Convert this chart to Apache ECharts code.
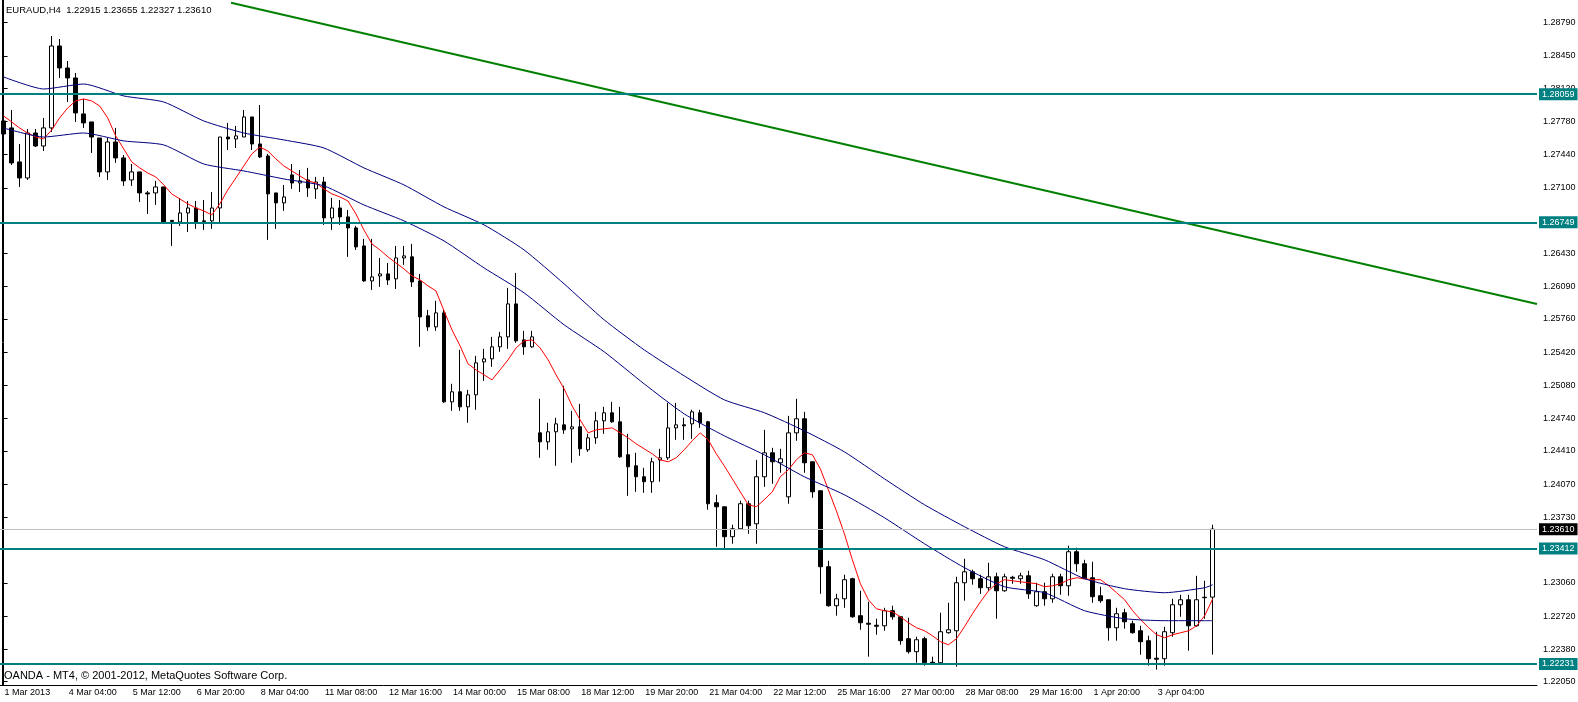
<!DOCTYPE html>
<html>
<head>
<meta charset="utf-8">
<title>EURAUD,H4</title>
<script src="https://cdn.jsdelivr.net/npm/echarts@6/dist/echarts.min.js"></script>
<style>
  html, body { margin: 0; padding: 0; background: #fff; }
  #chart { width: 1578px; height: 702px; }
</style>
</head>
<body>
<div id="chart"></div>
<script>
// H4 bars, 1 Mar 2013 00:00 .. 4 Apr 2013 08:00 (152 bars)
const open = [
  1.27785, 1.27714, 1.27366, 1.27202, 1.27662, 1.27529, 1.27714, 1.28552, 1.28327, 1.28225,
  1.27857, 1.27775, 1.27611, 1.27264, 1.27570, 1.27407, 1.27182, 1.27264, 1.27049, 1.27049,
  1.27110, 1.26768, 1.26752, 1.26844, 1.26895, 1.26763, 1.26763, 1.26895, 1.27621, 1.27601,
  1.27621, 1.27826, 1.27550, 1.27427, 1.27049, 1.26947, 1.27233, 1.27151, 1.27182, 1.27090,
  1.27161, 1.26793, 1.26895, 1.26804, 1.26691, 1.26507, 1.26149, 1.26200, 1.26221, 1.26170,
  1.26384, 1.26395, 1.26149, 1.25792, 1.25679, 1.25822, 1.24912, 1.25015, 1.24861, 1.24984,
  1.25321, 1.25352, 1.25475, 1.25577, 1.25914, 1.25546, 1.25475, 1.24595, 1.24503, 1.24606,
  1.24677, 1.24636, 1.24657, 1.24422, 1.24544, 1.24718, 1.24800, 1.24708, 1.24371, 1.24258,
  1.24146, 1.24095, 1.24319, 1.24340, 1.24646, 1.24677, 1.24687, 1.24800, 1.24708, 1.23880,
  1.23839, 1.23533, 1.23614, 1.23870, 1.23665, 1.24146, 1.24391, 1.24289, 1.23941, 1.24595,
  1.24739, 1.24299, 1.24003, 1.23226, 1.22827, 1.22898, 1.23103, 1.22725, 1.22648, 1.22627,
  1.22622, 1.22776, 1.22714, 1.22490, 1.22357, 1.22490, 1.22249, 1.22244, 1.22551, 1.22571,
  1.23062, 1.23174, 1.23103, 1.23011, 1.23123, 1.22980, 1.23118, 1.23103, 1.23133, 1.22827,
  1.22970, 1.22898, 1.23123, 1.23031, 1.23379, 1.23256, 1.23113, 1.22929, 1.22888, 1.22602,
  1.22755, 1.22643, 1.22571, 1.22469, 1.22290, 1.22285, 1.22551, 1.22837, 1.22888, 1.22622,
  1.22914, 1.22915
];
const close = [
  1.27652, 1.27356, 1.27202, 1.27662, 1.27529, 1.27714, 1.28552, 1.28327, 1.28225, 1.27867,
  1.27765, 1.27621, 1.27264, 1.27570, 1.27407, 1.27172, 1.27264, 1.27049, 1.27039, 1.27110,
  1.26752, 1.26758, 1.26844, 1.26895, 1.26752, 1.26758, 1.26895, 1.27621, 1.27601, 1.27632,
  1.27826, 1.27550, 1.27417, 1.27039, 1.26947, 1.27008, 1.27151, 1.27172, 1.27100, 1.27161,
  1.26793, 1.26895, 1.26804, 1.26691, 1.26497, 1.26149, 1.26190, 1.26221, 1.26159, 1.26384,
  1.26405, 1.26139, 1.25781, 1.25679, 1.25822, 1.24912, 1.25015, 1.24861, 1.24984, 1.25311,
  1.25352, 1.25475, 1.25577, 1.25914, 1.25536, 1.25475, 1.25577, 1.24503, 1.24606, 1.24687,
  1.24626, 1.24657, 1.24432, 1.24544, 1.24718, 1.24800, 1.24708, 1.24350, 1.24248, 1.24146,
  1.24095, 1.24299, 1.24340, 1.24646, 1.24677, 1.24667, 1.24810, 1.24698, 1.23870, 1.23839,
  1.23533, 1.23614, 1.23870, 1.23645, 1.24146, 1.24391, 1.24299, 1.24330, 1.24595, 1.24739,
  1.24289, 1.23992, 1.23226, 1.22827, 1.22898, 1.23093, 1.22714, 1.22653, 1.22638, 1.22617,
  1.22776, 1.22714, 1.22469, 1.22357, 1.22479, 1.22244, 1.22239, 1.22561, 1.22581, 1.23062,
  1.23174, 1.23103, 1.23011, 1.23123, 1.22980, 1.23123, 1.23108, 1.23133, 1.22949, 1.22970,
  1.22898, 1.23123, 1.23031, 1.23379, 1.23256, 1.23103, 1.22919, 1.22878, 1.22602, 1.22745,
  1.22663, 1.22551, 1.22459, 1.22285, 1.22280, 1.22561, 1.22837, 1.22888, 1.22622, 1.22888,
  1.22909, 1.23610
];
const low = [
  1.27632, 1.27335, 1.27110, 1.27182, 1.27519, 1.27478, 1.27673, 1.28225, 1.27979, 1.27775,
  1.27714, 1.27458, 1.27213, 1.27182, 1.27356, 1.27121, 1.27121, 1.26957, 1.26834, 1.26926,
  1.26747, 1.26507, 1.26712, 1.26650, 1.26681, 1.26671, 1.26681, 1.26742, 1.27488, 1.27509,
  1.27621, 1.27488, 1.27407, 1.26569, 1.26681, 1.26865, 1.27090, 1.27059, 1.27008, 1.26988,
  1.26722, 1.26671, 1.26722, 1.26395, 1.26466, 1.26139, 1.26057, 1.26088, 1.26108, 1.26067,
  1.26313, 1.26088, 1.25475, 1.25638, 1.25638, 1.24902, 1.24820, 1.24820, 1.24698, 1.24831,
  1.25127, 1.25270, 1.25424, 1.25454, 1.25516, 1.25393, 1.25465, 1.24340, 1.24422, 1.24258,
  1.24585, 1.24289, 1.24360, 1.24401, 1.24483, 1.24585, 1.24698, 1.24340, 1.23951, 1.23992,
  1.23982, 1.23982, 1.24095, 1.24319, 1.24524, 1.24524, 1.24534, 1.24646, 1.23809, 1.23430,
  1.23410, 1.23461, 1.23614, 1.23563, 1.23461, 1.24043, 1.24074, 1.24187, 1.23870, 1.24514,
  1.24187, 1.23931, 1.22949, 1.22817, 1.22725, 1.22806, 1.22704, 1.22581, 1.22306, 1.22530,
  1.22571, 1.22684, 1.22428, 1.22337, 1.22244, 1.22214, 1.22234, 1.22224, 1.22541, 1.22204,
  1.22878, 1.23042, 1.22949, 1.22980, 1.22694, 1.22970, 1.23052, 1.23052, 1.22898, 1.22817,
  1.22827, 1.22857, 1.22939, 1.22929, 1.23174, 1.23103, 1.22857, 1.22857, 1.22469, 1.22469,
  1.22592, 1.22541, 1.22326, 1.22214, 1.22173, 1.22214, 1.22510, 1.22714, 1.22367, 1.22612,
  1.22694, 1.22327
];
const high = [
  1.27949, 1.27897, 1.27550, 1.27703, 1.27703, 1.27816, 1.28654, 1.28623, 1.28398, 1.28276,
  1.28010, 1.27775, 1.27611, 1.27611, 1.27714, 1.27437, 1.27345, 1.27264, 1.27069, 1.27172,
  1.27110, 1.26773, 1.26998, 1.26967, 1.26967, 1.26977, 1.27059, 1.27621, 1.27765, 1.27734,
  1.27897, 1.27826, 1.27949, 1.27448, 1.27049, 1.27131, 1.27345, 1.27284, 1.27305, 1.27213,
  1.27213, 1.26998, 1.26977, 1.26875, 1.26712, 1.26579, 1.26579, 1.26384, 1.26333, 1.26507,
  1.26507, 1.26528, 1.26221, 1.25853, 1.25945, 1.25853, 1.25097, 1.25444, 1.25035, 1.25383,
  1.25454, 1.25577, 1.25628, 1.26078, 1.26231, 1.25638, 1.25638, 1.24943, 1.24698, 1.24749,
  1.25076, 1.24820, 1.24892, 1.24585, 1.24810, 1.24861, 1.24912, 1.24861, 1.24585, 1.24391,
  1.24238, 1.24340, 1.24432, 1.24902, 1.24902, 1.24749, 1.24831, 1.24831, 1.24718, 1.23962,
  1.23839, 1.23655, 1.23901, 1.23901, 1.24319, 1.24626, 1.24442, 1.24432, 1.24769, 1.24943,
  1.24810, 1.24299, 1.24003, 1.23287, 1.22949, 1.23144, 1.23113, 1.22980, 1.22868, 1.22694,
  1.22806, 1.22827, 1.22714, 1.22704, 1.22510, 1.22510, 1.22306, 1.22755, 1.22857, 1.23123,
  1.23307, 1.23195, 1.23144, 1.23266, 1.23164, 1.23154, 1.23133, 1.23164, 1.23185, 1.23062,
  1.23062, 1.23154, 1.23154, 1.23440, 1.23420, 1.23297, 1.23277, 1.23021, 1.22888, 1.22806,
  1.22796, 1.22674, 1.22622, 1.22520, 1.22561, 1.22612, 1.22898, 1.22939, 1.22939, 1.23133,
  1.23082, 1.23655
];

// red moving average, one value per bar
const maRed = [
  1.27836, 1.27775, 1.27713, 1.27662, 1.27621, 1.27601, 1.27693, 1.27816, 1.27918, 1.27990,
  1.28010, 1.27990, 1.27938, 1.27816, 1.27632, 1.27499, 1.27366, 1.27305, 1.27253, 1.27213,
  1.27131, 1.27039, 1.26988, 1.26937, 1.26896, 1.26865, 1.26824, 1.26937, 1.27080, 1.27202,
  1.27325, 1.27448, 1.27519, 1.27478, 1.27397, 1.27325, 1.27274, 1.27223, 1.27172, 1.27151,
  1.27090, 1.27039, 1.27008, 1.26967, 1.26834, 1.26671, 1.26527, 1.26466, 1.26395, 1.26333,
  1.26272, 1.26200, 1.26160, 1.26098, 1.26047, 1.25843, 1.25648, 1.25485, 1.25301, 1.25239,
  1.25188, 1.25137, 1.25239, 1.25342, 1.25464, 1.25536, 1.25546, 1.25464, 1.25342, 1.25188,
  1.25045, 1.24871, 1.24728, 1.24595, 1.24626, 1.24636, 1.24646, 1.24595, 1.24544, 1.24483,
  1.24432, 1.24381, 1.24319, 1.24299, 1.24340, 1.24422, 1.24514, 1.24595, 1.24524, 1.24381,
  1.24258, 1.24125, 1.23992, 1.23860, 1.23839, 1.23911, 1.23992, 1.24146, 1.24217, 1.24319,
  1.24391, 1.24371, 1.24227, 1.24013, 1.23798, 1.23563, 1.23297, 1.23052, 1.22888, 1.22796,
  1.22776, 1.22765, 1.22714, 1.22653, 1.22602, 1.22571, 1.22520, 1.22459, 1.22428, 1.22490,
  1.22612, 1.22745, 1.22868, 1.22980, 1.23052, 1.23093, 1.23082, 1.23072, 1.23062, 1.23052,
  1.23021, 1.23031, 1.23052, 1.23093, 1.23113, 1.23103, 1.23093, 1.23093, 1.23031, 1.22960,
  1.22888, 1.22776, 1.22684, 1.22602, 1.22530, 1.22500, 1.22530, 1.22551, 1.22571, 1.22622,
  1.22725, 1.22898
];

// the two navy averages, read every 5 bars
const maBlueBars = [0, 5, 10, 15, 20, 25, 30, 35, 40, 45, 50, 55, 60, 65, 70, 75,
  80, 85, 90, 95, 100, 105, 110, 115, 120, 125, 130, 135, 140, 145, 150, 151];
const maSlow = [
  1.28235, 1.28112, 1.28163, 1.28041, 1.27979, 1.27785, 1.27662, 1.27591, 1.27509, 1.27305,
  1.27131, 1.26906, 1.26722, 1.26466, 1.26119, 1.25751, 1.25444, 1.25178, 1.24933, 1.24801,
  1.24616, 1.24401, 1.24125, 1.23860, 1.23635, 1.23430, 1.23297, 1.23103, 1.23001, 1.22960,
  1.23011, 1.23042
];
const maMid = [
  1.27713, 1.27621, 1.27662, 1.27581, 1.27540, 1.27345, 1.27274, 1.27192, 1.27121, 1.26926,
  1.26763, 1.26558, 1.26282, 1.26027, 1.25700, 1.25424, 1.25096, 1.24789, 1.24565, 1.24371,
  1.24146, 1.23962, 1.23727, 1.23461, 1.23216, 1.23021, 1.22960, 1.22776, 1.22694, 1.22674,
  1.22674, 1.22674
];

const levels = [1.28059, 1.26749, 1.23412, 1.22231];
const bid = 1.23610;
// trend line end points: [bar position, price]
const trendLine = [[28.4, 1.28994], [191.5, 1.25913]];

const timeLabels = ['1 Mar 2013', '4 Mar 04:00', '5 Mar 12:00', '6 Mar 20:00', '8 Mar 04:00',
  '11 Mar 08:00', '12 Mar 16:00', '14 Mar 00:00', '15 Mar 08:00', '18 Mar 12:00', '19 Mar 20:00',
  '21 Mar 04:00', '22 Mar 12:00', '25 Mar 16:00', '27 Mar 00:00', '28 Mar 08:00', '29 Mar 16:00',
  '1 Apr 20:00', '3 Apr 04:00'];
const labelStep = 8;
const priceTicks = [1.2205, 1.2238, 1.2272, 1.2306, 1.2373, 1.2407, 1.2441, 1.2474, 1.2508,
  1.2542, 1.2576, 1.2609, 1.2643, 1.2710, 1.2744, 1.2778, 1.2812, 1.2845, 1.2879];

const slotCount = 192; // bars plus empty space to the right
const yMin = 1.220162;
const yMax = 1.290222;
const font = "'Liberation Sans', Arial, sans-serif";

const slots = Array.from({ length: slotCount }, (_, i) => String(i));
const candles = open.map((o, i) => [o, close[i], low[i], high[i]]);
const isLabel = (i) => i % labelStep === 0 && i / labelStep < timeLabels.length;
const last = open.length - 1;
const header = 'EURAUD,H4  ' + [open[last], high[last], low[last], close[last]].map((v) => v.toFixed(5)).join(' ');

const teal = '#008080';
const levelLines = levels.map((v) => ({
  yAxis: v,
  lineStyle: { color: teal, width: 2, type: 'solid' },
  label: { backgroundColor: teal, color: '#fff' }
}));
levelLines.push({
  yAxis: bid,
  lineStyle: { color: '#c0c0c0', width: 1, type: 'solid' },
  label: { backgroundColor: '#000', color: '#fff' }
});

const chart = echarts.init(document.getElementById('chart'), null, { renderer: 'canvas' });
chart.setOption({
  animation: false,
  backgroundColor: '#fff',
  title: [
    { text: header, left: 6, top: 5, padding: 0,
      textStyle: { fontSize: 9.5, fontWeight: 'normal', color: '#000', fontFamily: font } },
    { text: 'OANDA - MT4, © 2001-2012, MetaQuotes Software Corp.', left: 4, top: 670, padding: 0,
      textStyle: { fontSize: 11, fontWeight: 'normal', color: '#000', fontFamily: font } }
  ],
  grid: { left: -0.4, top: 0, width: 1537.4, height: 685, outerBoundsMode: 'none', containLabel: false },
  xAxis: [{
    type: 'category',
    data: slots,
    boundaryGap: true,
    axisLine: { lineStyle: { color: '#000', width: 1 } },
    axisTick: { interval: isLabel, alignWithLabel: true, length: 3, lineStyle: { color: '#000' } },
    axisLabel: {
      interval: isLabel,
      formatter: (v, i) => timeLabels[i / labelStep],
      align: 'left', margin: 3, padding: [0, 0, 0, 1],
      fontSize: 9, color: '#000', fontFamily: font
    },
    splitLine: { show: false }
  }, {
    type: 'value', min: -0.5, max: slotCount - 0.5, show: false
  }],
  yAxis: [{
    type: 'value', position: 'right', min: yMin, max: yMax,
    axisLine: { show: true, lineStyle: { color: '#000', width: 1 } },
    axisTick: { show: true, customValues: priceTicks, length: 4, lineStyle: { color: '#000' } },
    axisLabel: { customValues: priceTicks, formatter: (v) => v.toFixed(5), margin: 6,
      fontSize: 9, color: '#000', fontFamily: font },
    splitLine: { show: false }
  }, {
    type: 'value', position: 'left', min: yMin, max: yMax, offset: -2.4,
    axisLine: { show: true, lineStyle: { color: '#000', width: 1 } },
    axisTick: { show: false }, axisLabel: { show: false }, splitLine: { show: false }
  }],
  series: [{
    type: 'candlestick',
    data: candles,
    barWidth: 4,
    itemStyle: { color: '#fff', color0: '#000', borderColor: '#000', borderColor0: '#000', borderWidth: 1 },
    markLine: {
      silent: true,
      precision: 5,
      symbol: ['none', 'none'],
      data: levelLines,
      label: {
        position: 'end', distance: 2, padding: [2, 3, 1, 3],
        formatter: (p) => Number(p.value).toFixed(5), fontSize: 9, fontFamily: font
      }
    }
  }, {
    type: 'line', data: maRed, symbol: 'none',
    lineStyle: { color: '#ff0000', width: 1 }
  }, {
    type: 'line', data: maBlueBars.map((b, i) => [b, maSlow[i]]), symbol: 'none', smooth: 0.2,
    lineStyle: { color: '#000080', width: 1 }
  }, {
    type: 'line', data: maBlueBars.map((b, i) => [b, maMid[i]]), symbol: 'none', smooth: 0.2,
    lineStyle: { color: '#000080', width: 1 }
  }, {
    type: 'line', xAxisIndex: 1, data: trendLine, symbol: 'none', clip: true,
    lineStyle: { color: '#008000', width: 2 }
  }]
});
</script>
</body>
</html>
